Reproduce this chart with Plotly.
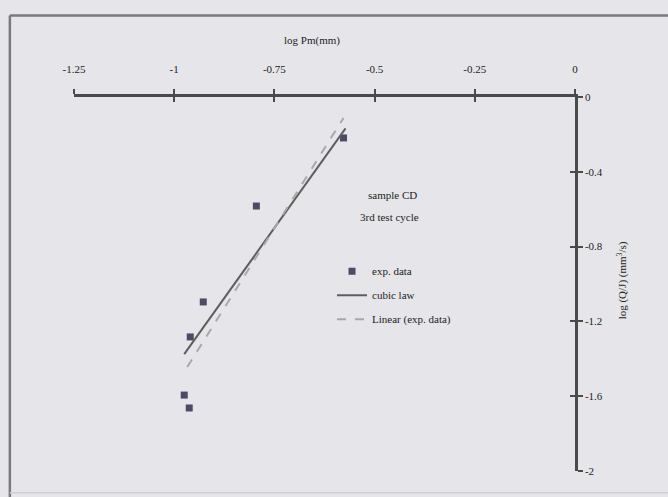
import plotly.graph_objects as go

# ---- data ----
log_pm = [-0.5775, -0.795, -0.9275, -0.96, -0.975, -0.9625]
log_qj = [-0.219, -0.583, -1.096, -1.283, -1.594, -1.663]

cubic_x = [-0.975, -0.5725]
cubic_y = [-1.375, -0.1675]

linear_x = [-0.9675, -0.5775]
linear_y = [-1.444, -0.112]

x_ticks = [-1.25, -1, -0.75, -0.5, -0.25, 0]
x_tick_text = ["-1.25", "-1", "-0.75", "-0.5", "-0.25", "0"]
y_ticks = [0, -0.4, -0.8, -1.2, -1.6, -2]
y_tick_text = ["0", "-0.4", "-0.8", "-1.2", "-1.6", "-2"]

FONT = "Liberation Serif"
BG = "#e6e6ea"
AX = "#4a4a4a"

fig = go.Figure()
fig.add_trace(go.Scatter(x=log_pm, y=log_qj, mode="markers", name="exp. data",
                         legendgroup="a",
                         marker=dict(symbol="square", size=7, color="#4b4b66")))
fig.add_trace(go.Scatter(x=cubic_x, y=cubic_y, mode="lines", name="cubic law",
                         legendgroup="b",
                         line=dict(color="#5e5e5e", width=2)))
fig.add_trace(go.Scatter(x=linear_x, y=linear_y, mode="lines", name="Linear (exp. data)",
                         legendgroup="c",
                         line=dict(color="#a8a8a8", width=2, dash="dash")))
# invisible helper trace so the overlay axes (crossing ticks) are drawn
fig.add_trace(go.Scatter(x=[x_ticks[0]], y=[y_ticks[0]], xaxis="x2", yaxis="y2",
                         mode="markers", marker=dict(opacity=0), showlegend=False,
                         hoverinfo="skip"))

xr = [-1.25, 0]
yr = [-2, 0]
fig.update_layout(
    width=668, height=497,
    margin=dict(l=74, r=93, t=97, b=26),
    paper_bgcolor=BG, plot_bgcolor=BG,
    font=dict(family=FONT, size=11, color="#222"),
    xaxis=dict(range=xr, side="top", tickvals=x_ticks, ticktext=x_tick_text,
               ticks="outside", ticklen=5, tickwidth=1.5, tickcolor=AX,
               showline=True, linecolor=AX, linewidth=2.5,
               showgrid=False, zeroline=False, ticklabelstandoff=12),
    yaxis=dict(range=yr, side="right", tickvals=y_ticks, ticktext=y_tick_text,
               ticks="outside", ticklen=5, tickwidth=1.5, tickcolor=AX,
               showline=True, linecolor=AX, linewidth=2.5,
               showgrid=False, zeroline=False),
    xaxis2=dict(range=xr, overlaying="x", side="top", tickvals=x_ticks,
                ticks="inside", ticklen=5, tickwidth=1.5, tickcolor=AX,
                showticklabels=False, showline=False, showgrid=False, zeroline=False),
    yaxis2=dict(range=yr, overlaying="y", side="right", tickvals=y_ticks,
                ticks="inside", ticklen=5, tickwidth=1.5, tickcolor=AX,
                showticklabels=False, showline=False, showgrid=False, zeroline=False),
    legend=dict(x=0.515, y=0.573, xanchor="left", yanchor="top",
                bgcolor="rgba(0,0,0,0)", font=dict(family=FONT, size=11),
                tracegroupgap=5, itemwidth=30),
    showlegend=True,
)

fig.add_annotation(text="log Pm(mm)", xref="paper", yref="paper", x=0.475, y=1.15,
                   xanchor="center", yanchor="middle",
                   showarrow=False, font=dict(family=FONT, size=11))
fig.add_annotation(text="log (Q/J) (mm<sup>3</sup>/s)", xref="paper", yref="paper",
                   x=1.094, y=0.51, textangle=-90, xanchor="center", yanchor="middle",
                   showarrow=False, font=dict(family=FONT, size=11))
fig.add_annotation(text="sample CD", xref="paper", yref="paper", x=0.635, y=0.738,
                   xanchor="center", yanchor="middle",
                   showarrow=False, font=dict(family=FONT, size=11))
fig.add_annotation(text="3rd test cycle", xref="paper", yref="paper", x=0.63, y=0.679,
                   xanchor="center", yanchor="middle",
                   showarrow=False, font=dict(family=FONT, size=11))

# outer chart-area frame (top and left edges visible in the reference)
fig.add_shape(type="line", xref="paper", yref="paper", x0=-0.128, x1=1.2,
              y0=1.218, y1=1.218, line=dict(color="#7a7a7a", width=2.5))
fig.add_shape(type="line", xref="paper", yref="paper", x0=-0.128, x1=-0.128,
              y0=1.218, y1=-0.07, line=dict(color="#7a7a7a", width=2.5))
fig.add_shape(type="line", xref="paper", yref="paper", x0=-0.128, x1=1.2,
              y0=-0.058, y1=-0.058, line=dict(color="#cfcfd4", width=1.5))

fig.write_html("out.html",
               config={"displayModeBar": False},
               post_script="document.body.style.margin='0';document.body.style.background='%s';" % BG)
